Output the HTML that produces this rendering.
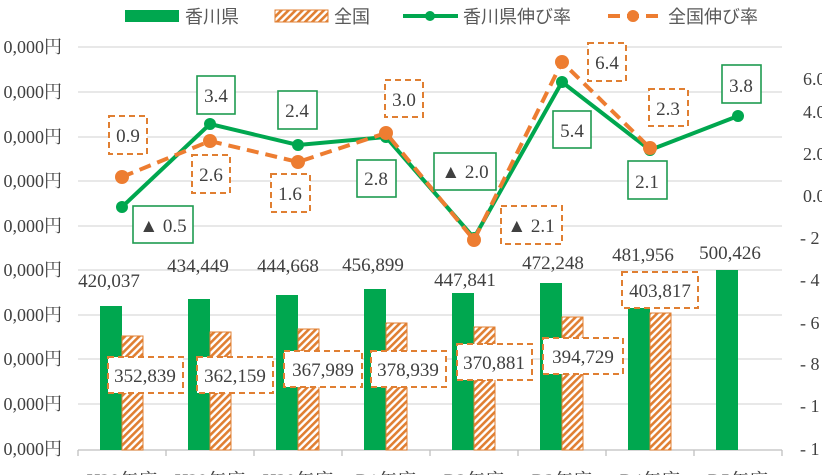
<!DOCTYPE html>
<html><head><meta charset="utf-8"><style>
html,body{margin:0;padding:0;background:#fff;width:822px;height:475px;overflow:hidden}
text{font-family:"Liberation Serif","Noto Serif CJK SC",serif;fill:#404040}
.j{font-family:"Liberation Sans","Noto Sans CJK JP",sans-serif;fill:#595959}
</style></head><body>
<svg width="822" height="475" viewBox="0 0 822 475" xmlns="http://www.w3.org/2000/svg">
<defs>
<pattern id="h" patternUnits="userSpaceOnUse" width="5" height="5" patternTransform="rotate(-45)">
<rect width="5" height="5" fill="#fff"/><rect width="5" height="2.6" fill="#E07F32"/>
</pattern>
</defs>
<g stroke="#d9d9d9" stroke-width="1.3">
<line x1="78" x2="782" y1="47" y2="47"/><line x1="78" x2="782" y1="92" y2="92"/>
<line x1="78" x2="782" y1="137" y2="137"/><line x1="78" x2="782" y1="181" y2="181"/>
<line x1="78" x2="782" y1="226" y2="226"/><line x1="78" x2="782" y1="270" y2="270"/>
<line x1="78" x2="782" y1="315" y2="315"/><line x1="78" x2="782" y1="359" y2="359"/>
<line x1="78" x2="782" y1="404" y2="404"/>
</g>
<g stroke="#bfbfbf" stroke-width="1.3">
<line x1="78" x2="782" y1="450" y2="450"/>
<line x1="78" x2="78" y1="450" y2="456"/><line x1="166" x2="166" y1="450" y2="456"/>
<line x1="254" x2="254" y1="450" y2="456"/><line x1="342" x2="342" y1="450" y2="456"/>
<line x1="430" x2="430" y1="450" y2="456"/><line x1="518" x2="518" y1="450" y2="456"/>
<line x1="606" x2="606" y1="450" y2="456"/><line x1="694" x2="694" y1="450" y2="456"/>
<line x1="782" x2="782" y1="450" y2="456"/>
</g>
<g font-size="18" text-anchor="end">
<text x="62" y="53">0,000円</text><text x="62" y="98">0,000円</text><text x="62" y="143">0,000円</text>
<text x="62" y="187">0,000円</text><text x="62" y="232">0,000円</text><text x="62" y="276">0,000円</text>
<text x="62" y="321">0,000円</text><text x="62" y="365">0,000円</text><text x="62" y="410">0,000円</text>
<text x="62" y="455">0,000円</text>
</g>
<g font-size="18">
<text x="803" y="85">6.0</text><text x="803" y="118">4.0</text><text x="803" y="160">2.0</text>
<text x="803" y="202">0.0</text><text x="800" y="244">- 2</text><text x="800" y="286">- 4</text>
<text x="800" y="329">- 6</text><text x="800" y="370">- 8</text><text x="800" y="412">- 1</text>
<text x="800" y="455">- 1</text>
</g>
<g fill="#00A74F">
<rect x="100" y="306" width="22" height="144"/><rect x="188" y="299" width="22" height="151"/>
<rect x="276" y="295" width="22" height="155"/><rect x="364" y="289" width="22" height="161"/>
<rect x="452" y="293" width="22" height="157"/><rect x="540" y="283" width="22" height="167"/>
<rect x="628" y="308" width="22" height="142"/><rect x="716" y="270" width="22" height="180"/>
</g>
<g fill="url(#h)" stroke="#E07F32" stroke-width="1">
<rect x="122" y="336" width="21" height="114"/><rect x="210" y="332" width="21" height="118"/>
<rect x="298" y="329" width="21" height="121"/><rect x="386" y="323" width="21" height="127"/>
<rect x="474" y="327" width="21" height="123"/><rect x="562" y="317" width="21" height="133"/>
<rect x="650" y="313" width="21" height="137"/>
</g>
<g font-size="19" text-anchor="middle">
<text x="109" y="287">420,037</text><text x="198" y="272">434,449</text>
<text x="288" y="272">444,668</text><text x="373" y="271">456,899</text>
<text x="465" y="286">447,841</text><text x="553" y="269">472,248</text>
<text x="643" y="261">481,956</text><text x="730" y="259">500,426</text>
</g>
<g fill="#fff" stroke="#E07F32" stroke-width="2" stroke-dasharray="6,4">
<rect x="108" y="357" width="75" height="36"/><rect x="197" y="357" width="76" height="36"/>
<rect x="284" y="351" width="78" height="36"/><rect x="371" y="351" width="75" height="36"/>
<rect x="457" y="344" width="75" height="36"/><rect x="543" y="338" width="80" height="36"/>
<rect x="622" y="272" width="76" height="36"/>
</g>
<g font-size="19" text-anchor="middle">
<text x="145" y="382">352,839</text><text x="235" y="382">362,159</text>
<text x="323" y="376">367,989</text><text x="408" y="376">378,939</text>
<text x="494" y="369">370,881</text><text x="583" y="363">394,729</text>
<text x="660" y="297">403,817</text>
</g>
<polyline fill="none" stroke="#00A74F" stroke-width="4" points="122,207 210,124 298,145 386,137 474,238 562,82 650,150 738,116"/>
<g fill="#00A74F"><circle cx="122" cy="207" r="6"/><circle cx="210" cy="124" r="6"/><circle cx="298" cy="145" r="6"/><circle cx="386" cy="137" r="6"/><circle cx="474" cy="238" r="6"/><circle cx="562" cy="82" r="6"/><circle cx="650" cy="150" r="6"/><circle cx="738" cy="116" r="6"/></g>
<polyline fill="none" stroke="#ED7D31" stroke-width="4" stroke-dasharray="12,7" points="122,177 210,141 298,162 386,133 474,240 562,62 650,148"/>
<g fill="#ED7D31"><circle cx="122" cy="177" r="7"/><circle cx="210" cy="141" r="7"/><circle cx="298" cy="162" r="7"/><circle cx="386" cy="133" r="7"/><circle cx="474" cy="240" r="7"/><circle cx="562" cy="62" r="7"/><circle cx="650" cy="148" r="7"/></g>
<g fill="#fff" stroke="#1E9B50" stroke-width="1.6">
<rect x="133" y="206" width="60" height="37"/><rect x="197" y="76" width="38" height="38"/>
<rect x="278" y="91" width="39" height="38"/><rect x="357" y="160" width="39" height="37"/>
<rect x="434" y="153" width="62" height="37"/><rect x="553" y="111" width="38" height="37"/>
<rect x="628" y="161" width="39" height="38"/><rect x="722" y="65" width="39" height="38"/>
</g>
<g fill="#fff" stroke="#E07F32" stroke-width="2" stroke-dasharray="6,4">
<rect x="109" y="116" width="38" height="38"/><rect x="192" y="155" width="38" height="38"/>
<rect x="271" y="174" width="39" height="38"/><rect x="385" y="80" width="38" height="37"/>
<rect x="501" y="206" width="61" height="38"/><rect x="588" y="43" width="38" height="38"/>
<rect x="649" y="89" width="39" height="37"/>
</g>
<g font-size="19" text-anchor="middle">
<text x="163" y="232">▲ 0.5</text><text x="216" y="102">3.4</text><text x="297" y="117">2.4</text>
<text x="376" y="185">2.8</text><text x="465" y="178">▲ 2.0</text><text x="572" y="137">5.4</text>
<text x="647" y="188">2.1</text><text x="741" y="92">3.8</text>
<text x="128" y="142">0.9</text><text x="211" y="181">2.6</text><text x="290" y="200">1.6</text>
<text x="404" y="106">3.0</text><text x="531" y="232">▲ 2.1</text><text x="607" y="69">6.4</text>
<text x="668" y="115">2.3</text>
</g>
<g font-size="19" text-anchor="middle">
<text x="122" y="487">H28年度</text><text x="210" y="487">H29年度</text><text x="298" y="487">H30年度</text>
<text x="386" y="487">R1年度</text><text x="474" y="487">R2年度</text><text x="562" y="487">R3年度</text>
<text x="650" y="487">R4年度</text><text x="738" y="487">R5年度</text>
</g>
<rect x="125" y="10" width="54" height="12" fill="#00A74F"/>
<text class="j" x="185" y="23" font-size="18">香川県</text>
<rect x="275" y="10" width="53" height="12" fill="url(#h)" stroke="#E07F32"/>
<text class="j" x="334" y="23" font-size="18">全国</text>
<line x1="403" x2="458" y1="16" y2="16" stroke="#00A74F" stroke-width="4"/>
<circle cx="430" cy="16" r="5" fill="#00A74F"/>
<text class="j" x="463" y="23" font-size="18">香川県伸び率</text>
<line x1="608" x2="660" y1="16" y2="16" stroke="#ED7D31" stroke-width="4" stroke-dasharray="12,7"/>
<circle cx="633" cy="16" r="6" fill="#ED7D31"/>
<text class="j" x="668" y="23" font-size="18">全国伸び率</text>
</svg>
</body></html>
